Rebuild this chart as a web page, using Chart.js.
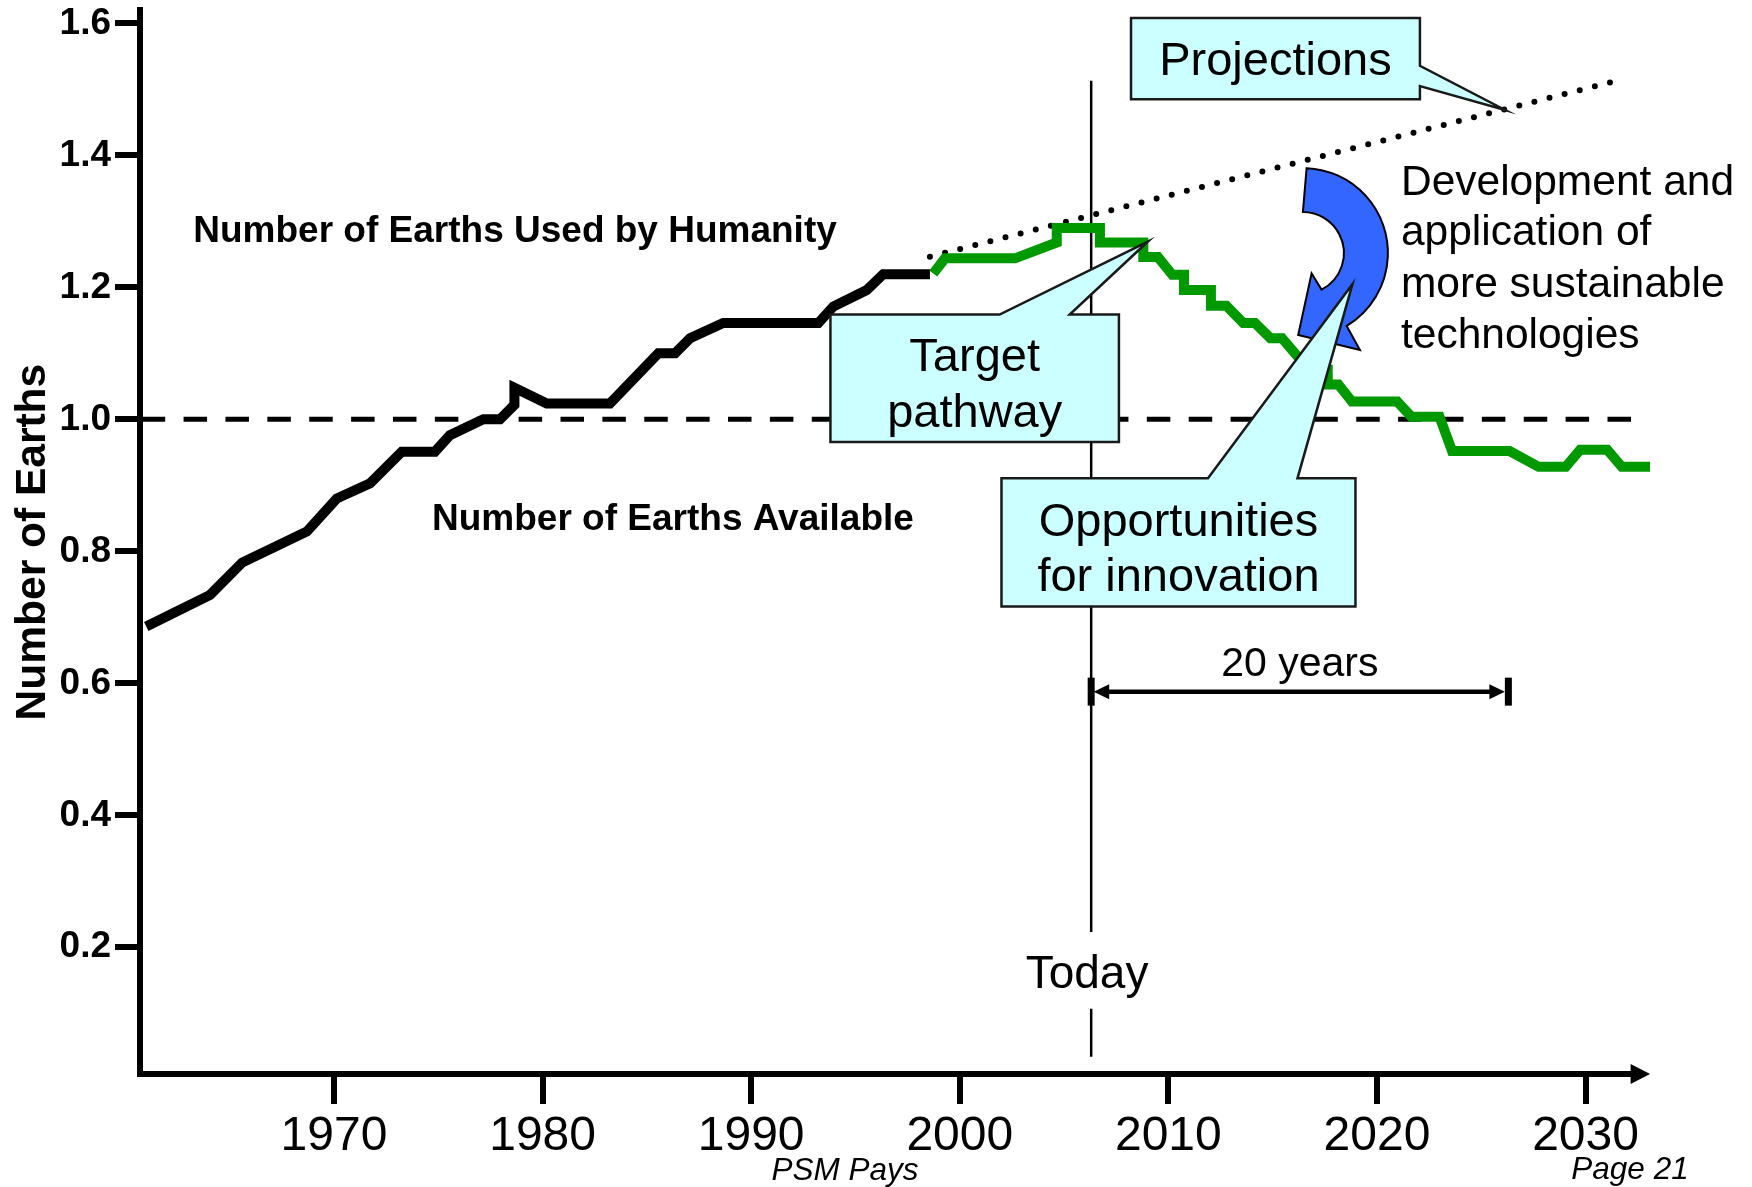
<!DOCTYPE html>
<html>
<head>
<meta charset="utf-8">
<title>Number of Earths Used by Humanity</title>
<script src="https://cdn.jsdelivr.net/npm/chart.js@4/dist/chart.umd.min.js"></script>
<style>
  html, body { margin: 0; padding: 0; background: #ffffff; }
  #wrap { width: 1752px; height: 1187px; position: relative; }
  canvas { display: block; }
</style>
</head>
<body>
<div id="wrap"><canvas id="chart" width="1752" height="1187"></canvas></div>
<script>
const FONT = '"Liberation Sans", Arial, Helvetica, sans-serif';

// Number of Earths used by humanity (historical record)
const usedYears  = [1961.0, 1964.06, 1965.6, 1968.7, 1970.13, 1971.73, 1973.25, 1974.84, 1975.56,
                    1977.16, 1977.96, 1978.65, 1978.65, 1980.2, 1983.23, 1985.55, 1986.35, 1987.07,
                    1988.66, 1993.22, 1993.94, 1995.54, 1996.33, 1998.57];
const usedEarths = [0.686, 0.734, 0.783, 0.830, 0.880, 0.903, 0.951, 0.951, 0.976,
                    1.000, 1.000, 1.022, 1.048, 1.024, 1.024, 1.100, 1.100, 1.123,
                    1.146, 1.146, 1.171, 1.196, 1.220, 1.220];

// Target pathway
const targetYears  = [1998.73, 1999.29, 2002.65, 2004.65, 2004.65, 2006.72, 2006.72, 2008.80, 2008.80,
                      2009.50, 2010.19, 2010.75, 2010.75, 2012.04, 2012.04, 2012.78, 2013.59, 2014.15,
                      2014.89, 2015.45, 2016.26, 2016.90, 2017.64, 2017.64, 2018.15, 2018.80, 2020.97,
                      2021.65, 2023.0, 2023.6, 2026.36, 2027.75, 2029.05, 2029.74, 2031.04, 2031.74, 2033.09];
const targetEarths = [1.221, 1.244, 1.244, 1.268, 1.290, 1.290, 1.268, 1.268, 1.246,
                      1.246, 1.219, 1.219, 1.196, 1.196, 1.172, 1.172, 1.146, 1.146,
                      1.123, 1.123, 1.093, 1.075, 1.075, 1.053, 1.053, 1.027, 1.027,
                      1.004, 1.004, 0.952, 0.952, 0.928, 0.928, 0.954, 0.954, 0.928, 0.928];

// Projections
const projectionYears  = [1998.57, 2031.34];
const projectionEarths = [1.2465, 1.512];

// Number of Earths available
const availableYears  = [1960.7, 2032.27];
const availableEarths = [1.0, 1.0];

// "Today" marker and the 20-year horizon
const todayYear = 2006.3;
const todayEarths = [1.513, 0.223, null, 0.107, 0.034];
const horizonYears = 20;

// Axis ticks
const yearTicks  = [1970, 1980, 1990, 2000, 2010, 2020, 2030];
const earthTicks = [0.2, 0.4, 0.6, 0.8, 1.0, 1.2, 1.4, 1.6];

const pts = (xs, ys) => xs.map((x, i) => ({ x: x, y: ys[i] }));

const callouts = [
  { lines: ['Projections'], box: [2008.21, 1.608, 2022.06, 1.485], side: 'right',
    base: [1.5358, 1.505], tip: [2026.14, 1.4688], baselines: [1.5224] },
  { lines: ['Target', 'pathway'], box: [1993.80, 1.1588, 2007.63, 0.9658], side: 'top',
    base: [2001.91, 2005.27], tip: [2009.02, 1.2695], baselines: [1.073, 0.989] },
  { lines: ['Opportunities', 'for innovation'], box: [2002.0, 0.9106, 2018.97, 0.7165], side: 'top',
    base: [2011.90, 2016.19], tip: [2018.83, 1.2052], baselines: [0.8236, 0.7406] }
];

const annotations = {
  id: 'annotations',
  afterDatasetsDraw(chart) {
    const { ctx } = chart;
    const xs = chart.scales.x, ys = chart.scales.y;
    const X = v => xs.getPixelForValue(v), Y = v => ys.getPixelForValue(v);
    ctx.save();

    // curved blue arrow
    const cx = X(2016.45), cy = Y(1.252), R = 85, r = 41;
    const rad = d => d * Math.PI / 180;
    ctx.beginPath();
    ctx.arc(cx, cy, R, rad(-87.5), rad(59), false);
    ctx.lineTo(cx + 57, cy + 97);
    ctx.lineTo(cx - 4.7, cy + 82);
    ctx.lineTo(cx + 8.7, cy + 20.3);
    ctx.arc(cx, cy, r, rad(63), rad(-90), true);
    ctx.closePath();
    ctx.fillStyle = '#3366ff';
    ctx.fill();
    ctx.lineWidth = 2;
    ctx.lineJoin = 'miter';
    ctx.strokeStyle = '#000';
    ctx.stroke();

    // callout boxes
    callouts.forEach(c => {
      const x0 = X(c.box[0]), y0 = Y(c.box[1]), x1 = X(c.box[2]), y1 = Y(c.box[3]);
      const tx = X(c.tip[0]), ty = Y(c.tip[1]);
      ctx.beginPath();
      ctx.moveTo(x0, y0);
      if (c.side === 'top') {
        ctx.lineTo(X(c.base[0]), y0);
        ctx.lineTo(tx, ty);
        ctx.lineTo(X(c.base[1]), y0);
      }
      ctx.lineTo(x1, y0);
      if (c.side === 'right') {
        ctx.lineTo(x1, Y(c.base[0]));
        ctx.lineTo(tx, ty);
        ctx.lineTo(x1, Y(c.base[1]));
      }
      ctx.lineTo(x1, y1);
      ctx.lineTo(x0, y1);
      ctx.closePath();
      ctx.fillStyle = '#ccffff';
      ctx.fill();
      ctx.lineWidth = 2.5;
      ctx.strokeStyle = '#1a1a1a';
      ctx.stroke();
      ctx.fillStyle = '#000';
      ctx.font = '47px ' + FONT;
      ctx.textAlign = 'center';
      ctx.textBaseline = 'alphabetic';
      c.lines.forEach((t, i) => ctx.fillText(t, (x0 + x1) / 2, Y(c.baselines[i])));
    });

    // free text labels
    ctx.fillStyle = '#000';
    ctx.textBaseline = 'alphabetic';
    ctx.textAlign = 'center';
    ctx.font = 'bold 37px ' + FONT;
    ctx.fillText('Number of Earths Used by Humanity', X(1978.68), Y(1.2689));
    ctx.fillText('Number of Earths Available', X(1986.25), Y(0.8324));

    ctx.font = '46px ' + FONT;
    ctx.fillText('Today', X(todayYear - 0.2), Y(0.1385));

    ctx.textAlign = 'left';
    ctx.font = '42.5px ' + FONT;
    const devLines = ['Development and', 'application of', 'more sustainable', 'technologies'];
    const devBase = [1.3397, 1.2642, 1.1861, 1.1078];
    devLines.forEach((t, i) => ctx.fillText(t, X(2021.15), Y(devBase[i])));

    // 20-year span arrow
    const ay = Y(0.5874), ax0 = X(todayYear), ax1 = X(todayYear + horizonYears);
    ctx.strokeStyle = '#000';
    ctx.lineWidth = 4.5;
    ctx.beginPath();
    ctx.moveTo(ax0 + 12, ay);
    ctx.lineTo(ax1 - 12, ay);
    ctx.stroke();
    ctx.fillStyle = '#000';
    ctx.fillRect(ax0 - 3.5, ay - 14, 7, 28);
    ctx.fillRect(ax1 - 3.5, ay - 14, 7, 28);
    ctx.beginPath();
    ctx.moveTo(ax0 + 2.5, ay); ctx.lineTo(ax0 + 18, ay - 7.5); ctx.lineTo(ax0 + 18, ay + 7.5);
    ctx.closePath(); ctx.fill();
    ctx.beginPath();
    ctx.moveTo(ax1 - 3.5, ay); ctx.lineTo(ax1 - 19, ay - 7.5); ctx.lineTo(ax1 - 19, ay + 7.5);
    ctx.closePath(); ctx.fill();
    ctx.textAlign = 'center';
    ctx.font = '41px ' + FONT;
    ctx.fillText(horizonYears + ' years', X(todayYear + horizonYears / 2), Y(0.6112));

    ctx.restore();
  },
  afterDraw(chart) {
    const { ctx, chartArea } = chart;
    ctx.save();
    // arrowhead at the end of the time axis
    const ax = chartArea.right, ay = chartArea.bottom;
    ctx.fillStyle = '#000';
    ctx.beginPath();
    ctx.moveTo(ax, ay - 10);
    ctx.lineTo(ax + 19.5, ay);
    ctx.lineTo(ax, ay + 10);
    ctx.closePath();
    ctx.fill();
    // footer
    ctx.font = 'italic 31.5px ' + FONT;
    ctx.textBaseline = 'alphabetic';
    ctx.textAlign = 'center';
    ctx.fillText('PSM Pays', 845, 1179.5);
    ctx.fillText('Page 21', 1630, 1179);
    ctx.restore();
  }
};

const noScalePadding = s => { s.paddingTop = 0; s.paddingBottom = 0; s.paddingLeft = 0; s.paddingRight = 0; };

new Chart(document.getElementById('chart'), {
  type: 'line',
  data: {
    datasets: [
      { label: 'Number of Earths Used by Humanity', data: pts(usedYears, usedEarths),
        borderColor: '#000000', borderWidth: 10, borderJoinStyle: 'miter', borderCapStyle: 'butt',
        pointRadius: 0, tension: 0, clip: false, order: 0 },
      { label: 'Target pathway', data: pts(targetYears, targetEarths),
        borderColor: '#009900', borderWidth: 10, borderJoinStyle: 'miter', borderCapStyle: 'butt',
        pointRadius: 0, tension: 0, clip: false, order: 0 },
      { label: 'Projections', data: pts(projectionYears, projectionEarths),
        borderColor: '#000000', borderWidth: 6, borderDash: [0, 15.6], borderCapStyle: 'round',
        pointRadius: 0, tension: 0, clip: false, order: 1 },
      { label: 'Number of Earths Available', data: pts(availableYears, availableEarths),
        borderColor: '#000000', borderWidth: 5, borderDash: [23.5, 18.38], borderDashOffset: 40.18,
        borderCapStyle: 'butt', pointRadius: 0, tension: 0, clip: false, order: 2 },
      { label: 'Today', data: todayEarths.map(v => ({ x: todayYear, y: v })),
        borderColor: '#000000', borderWidth: 2.5, borderCapStyle: 'butt', spanGaps: false,
        pointRadius: 0, tension: 0, clip: false, order: 3 }
    ]
  },
  options: {
    responsive: false,
    devicePixelRatio: 1,
    animation: false,
    events: [],
    layout: { autoPadding: false, padding: { left: 0, top: 10.2, right: 121.4, bottom: 0 } },
    plugins: { legend: { display: false }, tooltip: { enabled: false } },
    scales: {
      x: {
        type: 'linear', min: 1960.7, max: 2032.16,
        afterBuildTicks: s => { s.ticks = yearTicks.map(v => ({ value: v })); },
        afterFit: s => { s.height = 113; noScalePadding(s); },
        border: { display: true, color: '#000', width: 6 },
        grid: { display: true, drawOnChartArea: false, drawTicks: true, tickLength: 30,
                tickWidth: 6, tickColor: '#000', color: '#000', lineWidth: 6 },
        ticks: { autoSkip: false, maxRotation: 0, padding: 4, color: '#000',
                 font: { family: FONT, size: 48 }, callback: v => String(v) }
      },
      y: {
        type: 'linear', min: 0.008, max: 1.62,
        afterBuildTicks: s => { s.ticks = earthTicks.map(v => ({ value: v })); },
        afterFit: s => { s.width = 140; noScalePadding(s); },
        border: { display: true, color: '#000', width: 6 },
        grid: { display: true, drawOnChartArea: false, drawTicks: true, tickLength: 25,
                tickWidth: 6, tickColor: '#000', color: '#000', lineWidth: 6 },
        ticks: { padding: 4, color: '#000', font: { family: FONT, size: 37, weight: 'bold' },
                 callback: v => v.toFixed(1) },
        title: { display: true, text: 'Number of Earths', color: '#000',
                 font: { family: FONT, size: 42.5, weight: 'bold' }, padding: { top: 8, bottom: 0 } }
      }
    }
  },
  plugins: [annotations]
});
</script>
</body>
</html>
